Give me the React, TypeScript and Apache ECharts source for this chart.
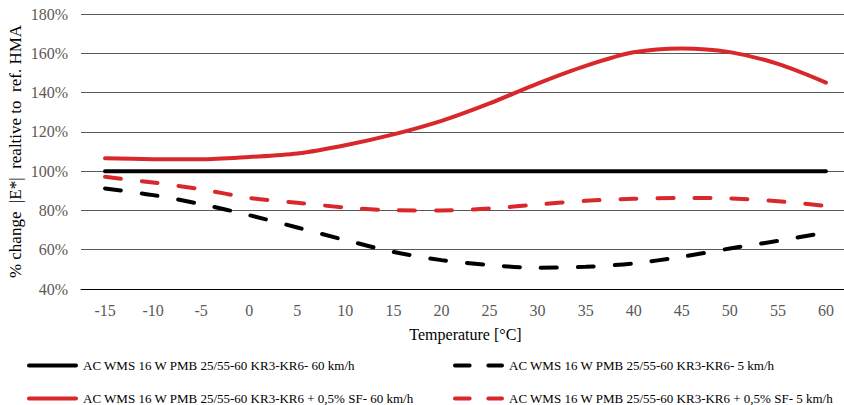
import React, { useEffect, useRef } from "react";
import * as echarts from "echarts";

const temperatures = ["-15", "-10", "-5", "0", "5", "10", "15", "20", "25", "30", "35", "40", "45", "50", "55", "60"];
const ref60 = [100, 100, 100, 100, 100, 100, 100, 100, 100, 100, 100, 100, 100, 100, 100, 100];
const ref5 = [91.2, 87.8, 83.2, 77.6, 71.3, 64.9, 58.9, 54.7, 52.2, 50.8, 51.3, 53.0, 56.4, 60.6, 64.5, 68.8];
const sf60 = [106.6, 106.1, 106.0, 107.2, 109.0, 113.2, 118.7, 125.6, 134.5, 144.6, 153.6, 160.5, 162.5, 160.6, 154.6, 145.1];
const sf5 = [97.1, 94.2, 90.8, 86.4, 83.9, 81.5, 80.1, 80.0, 81.0, 83.0, 84.9, 85.9, 86.4, 86.1, 84.7, 82.3];

const names = [
  "AC WMS 16 W PMB 25/55-60 KR3-KR6- 60 km/h",
  "AC WMS 16 W PMB 25/55-60 KR3-KR6- 5 km/h",
  "AC WMS 16 W PMB 25/55-60 KR3-KR6 + 0,5% SF- 60 km/h",
  "AC WMS 16 W PMB 25/55-60 KR3-KR6 + 0,5% SF- 5 km/h",
];

const RED = "#d8282b";
const FONT = "'Liberation Serif', 'Times New Roman', serif";
const SOLID_ICON = "path://M2,0 H49 A2,2 0 0 1 49,4 H2 A2,2 0 0 1 2,0 Z";
const DASH_ICON = "path://M2,0 H17 A2,2 0 0 1 17,4 H2 A2,2 0 0 1 2,0 Z M36,0 H50 A2,2 0 0 1 50,4 H36 A2,2 0 0 1 36,0 Z";

export default function App() {
  const ref = useRef<HTMLDivElement>(null);
  useEffect(() => {
    if (!ref.current) return;
    const chart = echarts.init(ref.current, null, { renderer: "svg" });
    const dash = [16, 21];
    const mk = (name: string, data: number[], color: string, dashed: boolean, z: number) => ({
      type: "line",
      name,
      data,
      smooth: 0.3,
      showSymbol: false,
      symbol: "none",
      z,
      lineStyle: { color, width: 4, type: dashed ? dash : "solid", cap: "round" },
      itemStyle: { color },
    });
    const legendText = { fontFamily: FONT, fontSize: 13, color: "#000" };
    const leg = (name: string, left: number, top: number, dashed: boolean) => ({
      data: [{ name, icon: dashed ? DASH_ICON : SOLID_ICON }],
      left,
      top,
      itemWidth: 51,
      itemHeight: 4,
      itemGap: 2,
      padding: 0,
      textStyle: legendText,
      selectedMode: false,
    });
    chart.setOption({
      animation: false,
      backgroundColor: "#fff",
      grid: { left: 81, top: 14, width: 769, height: 275, containLabel: false, outerBoundsMode: "none" },
      legend: [
        leg(names[0], 27, 359, false),
        leg(names[1], 453, 359, true),
        leg(names[2], 27, 392, false),
        leg(names[3], 453, 392, true),
      ],
      xAxis: {
        type: "category",
        data: temperatures,
        boundaryGap: true,
        axisTick: { show: false },
        axisLine: { lineStyle: { color: "#000", width: 1 } },
        axisLabel: { color: "#595959", fontSize: 16, fontFamily: FONT, margin: 13 },
        name: "Temperature [°C]",
        nameLocation: "middle",
        nameGap: 37,
        nameMoveOverlap: false,
        nameTextStyle: { color: "#000", fontSize: 16, fontFamily: FONT },
      },
      yAxis: {
        type: "value",
        min: 40,
        max: 180,
        interval: 20,
        axisLine: { show: false },
        axisTick: { show: false },
        splitLine: { lineStyle: { color: "#595959", width: 1 } },
        axisLabel: { color: "#595959", fontSize: 16, fontFamily: FONT, margin: 13, formatter: "{value}%" },
        name: "% change  |E*|  realtive to  ref. HMA",
        nameLocation: "middle",
        nameGap: 57,
        nameMoveOverlap: false,
        nameTextStyle: { color: "#000", fontSize: 17, fontFamily: FONT },
      },
      series: [
        mk(names[0], ref60, "#000", false, 3),
        mk(names[1], ref5, "#000", true, 2),
        mk(names[2], sf60, RED, false, 4),
        mk(names[3], sf5, RED, true, 2),
      ],
    });
    return () => chart.dispose();
  }, []);
  return (
    <div
      ref={ref}
      style={{ position: "fixed", left: 0, top: 0, width: 844, height: 405, background: "#fff" }}
    />
  );
}
